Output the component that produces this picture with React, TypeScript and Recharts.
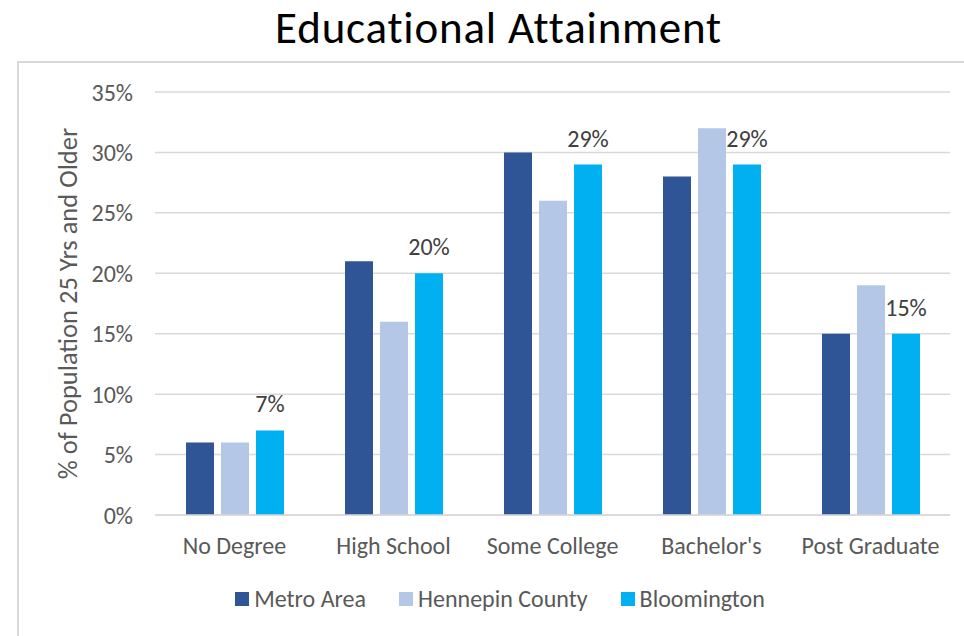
import React from "react";
import { BarChart, Bar, XAxis, YAxis, CartesianGrid, Legend, LabelList } from "recharts";

const categories = ["No Degree", "High School", "Some College", "Bachelor's", "Post Graduate"];
const metroArea = [6, 21, 30, 28, 15];
const hennepinCounty = [6, 16, 26, 32, 19];
const bloomington = [7, 20, 29, 29, 15];
const yTicks = [0, 5, 10, 15, 20, 25, 30, 35];

const seriesNames = ["Metro Area", "Hennepin County", "Bloomington"];
const seriesColors = ["#2F5597", "#B4C7E7", "#00B0F0"];

const data = categories.map((c, i) => ({
  category: c,
  metro: metroArea[i],
  hennepin: hennepinCounty[i],
  bloomington: bloomington[i],
}));

const FONT = "Carlito, Calibri, Lato, sans-serif";

const YLabel = (props: any) => {
  const vb = props.viewBox || {};
  const cy = (vb.y ?? 0) + (vb.height ?? 0) / 2;
  const cx = 68;
  return (
    <text
      x={cx}
      y={cy}
      transform={`rotate(-90, ${cx}, ${cy})`}
      textAnchor="middle"
      dominantBaseline="central"
      fill="#595959"
      fontSize={26.5}
      fontFamily={FONT}
    >
      % of Population 25 Yrs and Older
    </text>
  );
};

const LegendContent = () => (
  <div
    style={{
      display: "flex",
      justifyContent: "center",
      alignItems: "center",
      gap: 33,
      fontFamily: FONT,
      fontSize: 24,
      lineHeight: "28px",
      color: "#595959",
    }}
  >
    {seriesNames.map((n, i) => (
      <div key={n} style={{ display: "flex", alignItems: "center" }}>
        <span
          style={{
            display: "inline-block",
            width: 14,
            height: 14,
            background: seriesColors[i],
            marginRight: 5,
          }}
        />
        <span>{n}</span>
      </div>
    ))}
  </div>
);

export default function App() {
  return (
    <div
      style={{
        position: "absolute",
        left: 0,
        top: 0,
        width: 964,
        height: 636,
        background: "#fff",
        overflow: "hidden",
      }}
    >
      <div
        style={{
          position: "absolute",
          left: 0,
          top: 0,
          width: 997,
          textAlign: "center",
          fontFamily: FONT,
          fontSize: 45,
          letterSpacing: 0.8,
          lineHeight: "normal",
          color: "#000",
        }}
      >
        Educational Attainment
      </div>
      <div
        style={{
          position: "absolute",
          left: 17,
          top: 61,
          width: 1000,
          height: 700,
          borderLeft: "2px solid #D9D9D9",
          borderTop: "2px solid #D9D9D9",
        }}
      />
      <div style={{ position: "absolute", left: 0, top: 0 }}>
        <BarChart
          width={964}
          height={636}
          data={data}
          margin={{ top: 92, right: 14, left: 0, bottom: 81 }}
          barSize={28}
          barGap={7}
        >
          <CartesianGrid vertical={false} stroke="#D9D9D9" strokeWidth={1.5} />
          <XAxis
            dataKey="category"
            height={40}
            tickLine={false}
            tickSize={0}
            tickMargin={22}
            axisLine={{ stroke: "#D9D9D9", strokeWidth: 1.5 }}
            tick={{ fill: "#595959", fontSize: 24, fontFamily: FONT }}
            interval={0}
          />
          <YAxis
            width={155}
            domain={[0, 35]}
            ticks={yTicks}
            interval={0}
            tickLine={false}
            axisLine={false}
            tickSize={0}
            tickMargin={22}
            tickFormatter={(v: number) => `${v}%`}
            tick={{ fill: "#595959", fontSize: 24, fontFamily: FONT }}
            label={<YLabel />}
          />
          <Legend
            verticalAlign="middle"
            layout="horizontal"
            content={<LegendContent />}
            wrapperStyle={{ top: 585, left: 36, width: 928 }}
          />
          <Bar dataKey="metro" name={seriesNames[0]} fill={seriesColors[0]} isAnimationActive={false} />
          <Bar dataKey="hennepin" name={seriesNames[1]} fill={seriesColors[1]} isAnimationActive={false} />
          <Bar dataKey="bloomington" name={seriesNames[2]} fill={seriesColors[2]} isAnimationActive={false}>
            <LabelList
              dataKey="bloomington"
              position="top"
              offset={18}
              formatter={(v: any) => `${v}%`}
              fill="#404040"
              fontSize={24}
              fontFamily={FONT}
            />
          </Bar>
        </BarChart>
      </div>
    </div>
  );
}
